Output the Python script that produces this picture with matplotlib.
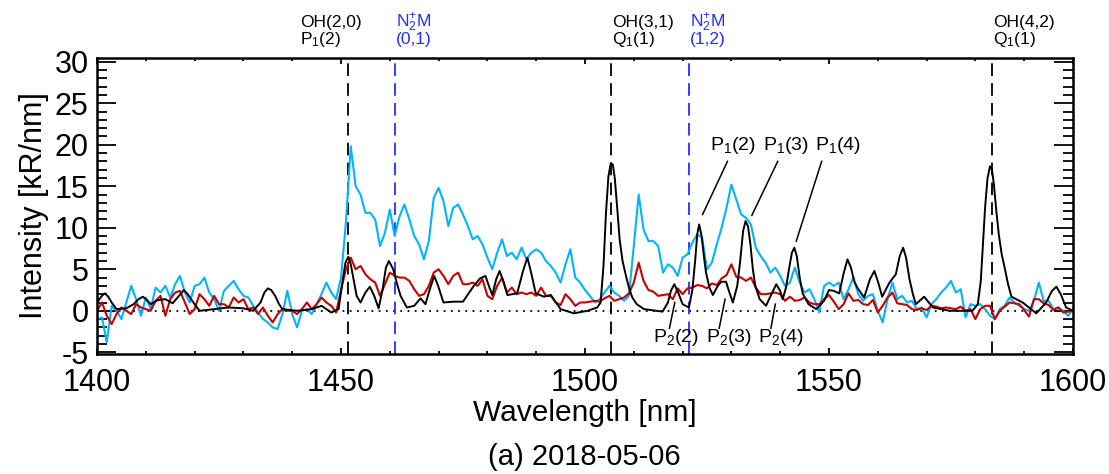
import numpy as np
import matplotlib
matplotlib.use('Agg')
import matplotlib.pyplot as plt
from matplotlib.ticker import MultipleLocator

plt.rcParams['font.family'] = ['Liberation Sans', 'DejaVu Sans']
plt.rcParams['mathtext.fontset'] = 'custom'
plt.rcParams['mathtext.rm'] = 'Liberation Sans'
plt.rcParams['mathtext.it'] = 'Liberation Sans:italic'
plt.rcParams['axes.unicode_minus'] = False

# cyan and red spectra, 1 nm steps from 1400 to 1600
wl = np.arange(1400, 1601)

cyan = [
  -1.0, -0.8, -3.8, 0.6, 0.0, -1.0, 1.0, 3.0, 1.4, -0.6,
  1.6, 0.2, 2.8, 2.2, 3.0, 1.6, 3.2, 4.2, 2.2, 1.0,
  3.0, 3.2, 4.0, 2.2, 1.4, 0.0, 2.4, 3.0, 3.6, 2.6,
  1.8, 1.6, 0.6, -0.2, -1.0, -1.4, -2.0, -2.2, -0.4, 2.4,
  -0.4, -2.0, 0.0, 0.2, -0.4, 0.8, 2.0, 3.4, 2.2, 1.4,
  4.0, 10.6, 19.8, 15.0, 14.0, 11.8, 11.8, 11.0, 7.8, 9.4,
  12.2, 9.0, 11.4, 12.8, 11.0, 9.0, 8.0, 6.2, 8.4, 13.6,
  14.8, 13.2, 10.2, 12.4, 12.8, 11.6, 10.2, 8.6, 9.0, 8.0,
  6.4, 5.0, 7.0, 8.6, 6.6, 7.0, 6.2, 7.6, 6.2, 7.0,
  7.4, 7.0, 6.0, 5.4, 4.6, 3.4, 5.6, 7.4, 4.0, 3.4,
  2.5, 1.8, 1.0, 1.4, 2.2, 3.0, 2.2, 1.8, 1.2, 1.8,
  7.8, 14.0, 9.8, 8.4, 8.4, 7.8, 4.6, 5.6, 5.2, 4.2,
  6.4, 6.8, 8.2, 9.2, 8.8, 5.0, 5.8, 8.0, 10.0, 12.4,
  15.2, 13.4, 11.6, 11.2, 10.4, 7.6, 6.6, 5.8, 4.6, 5.2,
  4.2, 3.0, 3.4, 5.2, 3.4, 2.2, 2.6, 1.4, -0.2, 3.0,
  3.4, 3.0, 3.4, 1.4, 2.6, 4.0, 2.0, 1.2, 1.8, 2.0,
  0.0, -1.4, 1.4, 3.4, 1.4, 1.8, 1.0, 1.2, 0.2, 0.4,
  -0.8, 0.8, 1.4, 2.2, 2.8, 3.6, 2.2, 2.6, -0.8, 0.8,
  0.6, 0.8, 0.2, -0.6, -1.0, 0.2, 0.6, 1.6, 1.0, 0.6,
  0.2, 0.0, 1.2, 3.4, 1.2, 1.2, 0.2, 0.4, 0.0, -0.6,
  0.2]

red = [
  0.0, 1.0, -0.6, -1.6, -0.4, 0.4, 0.0, -0.4, 0.8, 0.4,
  0.2, 0.0, 1.2, 1.8, -0.6, 1.4, 2.2, 2.4, 1.0, -0.4,
  0.2, 2.0, 1.4, 0.6, 1.8, 0.8, 0.8, 0.4, 1.6, 1.0,
  1.4, 0.2, 0.4, -0.4, 0.4, -0.6, -1.4, -0.4, 0.2, 0.0,
  0.0, -0.4, 0.2, 1.0, 0.2, 0.8, 1.6, 1.0, 0.6, -0.2,
  2.5, 5.0, 6.4, 5.0, 5.4, 4.4, 3.8, 3.4, 1.8, 3.2,
  4.6, 4.2, 4.0, 4.0, 3.6, 2.6, 1.8, 2.0, 3.0, 4.6,
  5.0, 4.2, 3.2, 4.2, 4.6, 3.2, 3.2, 3.4, 3.0, 3.8,
  1.8, 1.4, 3.0, 4.0, 2.2, 2.8, 2.0, 2.2, 2.0, 2.2,
  1.8, 2.8, 1.8, 1.8, 1.0, 0.7, 2.0, 1.4, 0.6, 1.0,
  1.0, 1.1, 1.2, 1.1, 1.5, 1.8, 1.2, 1.4, 1.6, 2.1,
  3.4, 5.8, 3.6, 2.5, 2.3, 1.8, 1.9, 2.0, 1.4, 2.7,
  2.0, 2.7, 2.8, 3.1, 3.0, 2.7, 3.3, 3.1, 3.9, 4.3,
  5.6, 4.1, 4.0, 3.6, 4.0, 2.8, 2.0, 2.0, 2.1, 2.2,
  2.0, 1.2, 1.7, 1.2, 1.3, 1.6, 1.0, 0.8, 0.8, 1.4,
  1.9, 1.1, 0.2, 0.8, 2.1, 1.2, 1.3, 0.8, 0.7, 1.3,
  -0.2, 0.6, 1.6, 2.2, 0.9, 0.8, 0.7, 0.2, 0.1, 0.3,
  0.1, 0.6, 0.5, 0.3, 0.4, 0.3, 0.2, 0.5, 0.0, 0.2,
  -1.0, 0.2, 0.6, 0.6, -1.0, 0.0, 0.5, 1.0, 0.9, 0.8,
  0.1, -0.7, 1.4, 1.4, 0.9, 0.7, 0.1, 0.4, -0.2, -0.1,
  0.0]

# black spectrum, points
black_wl = [
  1400, 1401, 1401.6, 1402.3, 1403, 1404, 1406, 1407.5, 1408.5, 1409.4,
  1410.2, 1411, 1412.5, 1414, 1415.5, 1416.8, 1417.8, 1418.6, 1419.5, 1421,
  1424, 1427, 1430, 1432, 1433.5, 1434.3, 1435, 1435.7, 1436.5, 1437.3,
  1438, 1441, 1444, 1446, 1448, 1449.5, 1450.3, 1450.9, 1451.5, 1452,
  1452.5, 1453.2, 1454, 1455, 1455.9, 1456.8, 1457.7, 1458.5, 1459.2, 1459.8,
  1460.7, 1461.5, 1462.2, 1463.5, 1465, 1466.3, 1467.3, 1468.2, 1469.1, 1469.9,
  1471, 1473, 1475, 1477.2, 1478.5, 1479.6, 1480.3, 1481, 1481.8, 1482.5,
  1483.3, 1484.1, 1486.1, 1487.3, 1488.2, 1489, 1489.9, 1491.6, 1493, 1495,
  1497.7, 1500.5, 1502.5, 1503.2, 1503.8, 1504.3, 1504.8, 1505.3, 1505.7, 1506.1,
  1506.6, 1507.1, 1507.7, 1508.4, 1509, 1509.7, 1510.6, 1512.1, 1515.9, 1517,
  1517.6, 1518.3, 1519.1, 1520, 1521.3, 1522, 1522.6, 1523.0, 1523.4, 1523.9,
  1524.4, 1524.8, 1525.5, 1526.2, 1527.2, 1527.9, 1528.9, 1529.6, 1530.3, 1531.2,
  1531.8, 1532.4, 1532.9, 1533.4, 1533.9, 1534.4, 1534.9, 1535.8, 1537.1, 1538.2,
  1539.2, 1540, 1540.5, 1541.2, 1541.8, 1542.4, 1542.9, 1543.4, 1544, 1544.6,
  1545.8, 1547.4, 1549, 1550, 1551, 1552.1, 1553, 1553.8, 1554.5, 1555.2,
  1555.9, 1557.2, 1558.4, 1559.3, 1560.1, 1560.9, 1562.4, 1563.7, 1564.5, 1565.2,
  1565.8, 1566.5, 1567.2, 1567.8, 1569.5, 1571.3, 1574.7, 1579.4, 1580.5, 1581.1,
  1581.6, 1582.0, 1582.5, 1583.0, 1583.4, 1583.8, 1584.3, 1584.8, 1585.4, 1586.0,
  1586.7, 1587.4, 1589.7, 1592.5, 1594.5, 1595.7, 1596.6, 1597.5, 1598.6, 1600]
black_val = [
  1.0, 1.8, 2.1, 1.7, 1.0, 0.2, 0.3, 0.8, 1.4, 1.7,
  1.3, 0.8, 1.3, 1.4, 0.9, 1.8, 2.5, 2.0, 1.2, 0.0,
  0.2, 0.4, 0.3, 0.0, 1.0, 2.2, 2.7, 2.5, 1.8, 0.8,
  0.2, 0.0, 0.2, 0.6, -0.2, 0.2, 3.5, 5.8, 6.5, 5.6,
  4.0, 1.8, 1.0, 2.2, 2.9, 1.8, 0.3, 2.5, 5.2, 6.0,
  5.0, 3.2, 1.8, 0.4, 0.6, 1.5, 0.8, 2.6, 4.2, 3.0,
  1.0, 1.1, 1.1, 3.0, 3.9, 4.2, 3.0, 1.9, 3.8, 4.8,
  3.5, 1.9, 2.1, 4.8, 6.4, 4.5, 2.1, 1.7, 1.9, 0.2,
  -0.3, 0.0, 0.4, 1.0, 5.5, 11.8, 16.2, 17.8, 17.6, 16.0,
  12.4, 8.6, 6.0, 4.2, 2.8, 1.6, 0.8, 0.2, -0.1, 1.0,
  2.4, 3.2, 2.2, 0.8, 0.4, 2.5, 6.2, 9.2, 10.4, 9.0,
  6.4, 4.6, 2.8, 1.9, 3.0, 3.5, 3.5, 2.2, 1.0, 3.0,
  6.0, 9.6, 10.8, 10.2, 8.0, 5.0, 3.0, 1.4, 0.6, 2.0,
  3.2, 2.4, 1.4, 2.8, 5.0, 7.0, 7.6, 6.6, 4.0, 2.1,
  0.8, 0.2, 1.2, 2.5, 2.4, 2.1, 4.5, 6.2, 5.2, 3.5,
  2.7, 1.6, 3.8, 4.8, 3.4, 1.7, 3.4, 4.4, 6.6, 7.6,
  6.4, 3.8, 2.0, 0.8, 1.7, 0.4, 0.0, 0.0, 0.8, 3.5,
  8.5, 12.5, 16.0, 17.4, 17.0, 15.2, 12.0, 9.2, 6.8, 5.2,
  3.2, 1.7, 1.0, -0.3, 1.0, 2.4, 2.9, 2.0, 0.4, 0.0]

oh_lines = [1451.5, 1505.3, 1583.5]
n2_lines = [1461.0, 1521.3]

blue = '#1f2fff'
fig = plt.figure(figsize=(11.09, 4.74), dpi=100)
ax = fig.add_axes([0.0875, 0.2532, 0.880, 0.6245])

ax.axhline(0, color='black', linestyle=(0, (1, 3)), linewidth=1.3)
for x in oh_lines:
  ax.axvline(x, color='black', linestyle=(0, (7, 4)), linewidth=1.3)
for x in n2_lines:
  ax.axvline(x, color=blue, linestyle=(0, (7, 4)), linewidth=1.3)

ax.plot(wl, cyan, color='#00b4ff', linewidth=1.5)
ax.plot(wl, red, color='#c80000', linewidth=1.5)
ax.plot(black_wl, black_val, color='black', linewidth=1.4)

ax.set_xlim(1400, 1600)
ax.set_ylim(-5.2, 30.45)
ax.xaxis.set_major_locator(MultipleLocator(50))
ax.xaxis.set_minor_locator(MultipleLocator(10))
ax.yaxis.set_major_locator(MultipleLocator(5))
ax.yaxis.set_minor_locator(MultipleLocator(1))
ax.tick_params(which='both', direction='in', top=True, right=True, labelsize=22, width=1.3)
ax.tick_params(axis='x', which='major', length=4.3, pad=10)
ax.tick_params(axis='x', which='minor', length=2.2)
ax.tick_params(axis='y', which='major', length=14, pad=6)
ax.tick_params(axis='y', which='minor', length=7)
for s in ax.spines.values():
  s.set_linewidth(1.8)

ax.set_xlabel('Wavelength [nm]', fontsize=21.5, labelpad=1)
ax.set_ylabel('Intensity [kR/nm]', fontsize=22, labelpad=4)
fig.text(0.527, 0.036, '(a) 2018-05-06', fontsize=21, ha='center', va='center')

# line labels above the plot
tr = ax.get_xaxis_transform()
tops = [(1441.6, 'OH(2,0)', 'P$_1$(2)', 'black'),
        (1461.2, 'N$_2^{+}$M', '(0,1)', blue),
        (1505.5, 'OH(3,1)', 'Q$_1$(1)', 'black'),
        (1521.5, 'N$_2^{+}$M', '(1,2)', blue),
        (1583.6, 'OH(4,2)', 'Q$_1$(1)', 'black')]
for x, l1, l2, c in tops:
  ax.text(x, 1.104, l1, transform=tr, color=c, fontsize=12.5, va='baseline', clip_on=False)
  ax.text(x, 1.046, l2, transform=tr, color=c, fontsize=12.5, va='baseline', clip_on=False)

# rotational line annotations
p1 = [(1530.3, 'P$_1$(2)', 1529.2, 1524.1, 11.6),
      (1541.1, 'P$_1$(3)', 1539.5, 1534.2, 11.5),
      (1551.8, 'P$_1$(4)', 1548.5, 1543.3, 8.4)]
for x, s, x0, x1, y1 in p1:
  ax.text(x, 19.9, s, fontsize=14, ha='center', va='center')
  ax.plot([x0, x1], [18.0, y1], color='black', linewidth=1.1)
p2 = [(1518.7, 'P$_2$(2)', 1517.3, 1518.4, 1.0),
      (1529.5, 'P$_2$(3)', 1527.5, 1528.7, 1.4),
      (1540.2, 'P$_2$(4)', 1538.1, 1539.0, 0.8)]
for x, s, x0, x1, y1 in p2:
  ax.text(x, -3.2, s, fontsize=14, ha='center', va='center')
  ax.plot([x0, x1], [-2.1, y1], color='black', linewidth=1.1)

fig.savefig('out.png', dpi=100)
